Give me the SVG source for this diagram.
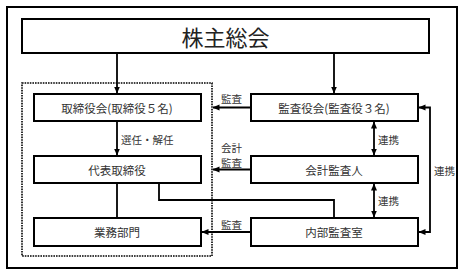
<svg xmlns="http://www.w3.org/2000/svg" width="466" height="275" viewBox="0 0 466 275">
<style>
  .box{fill:#fff;stroke:#000;stroke-width:2}
  .t{font-family:"Noto Sans CJK JP","Noto Sans CJK SC",sans-serif;font-size:11.5px;fill:#333;text-anchor:middle;dominant-baseline:central}
  .lbl{font-family:"Noto Sans CJK JP","Noto Sans CJK SC",sans-serif;font-size:10.5px;fill:#333;dominant-baseline:central}
  .c{fill:none;stroke:#000;stroke-width:1.8}
  .a{marker-end:url(#ah)}
  .d{marker-start:url(#ah);marker-end:url(#ah)}
</style>
<defs>
  <marker id="ah" markerUnits="userSpaceOnUse" markerWidth="7" markerHeight="7" refX="6.5" refY="3.5" orient="auto-start-reverse">
    <path d="M0,0.5 L7,3.5 L0,6.5 z" fill="#000"/>
  </marker>
</defs>
<rect width="466" height="275" fill="#fff"/>
<rect id="outer" x="7" y="7" width="450" height="261" fill="none" stroke="#000" stroke-width="2"/>
<rect id="group-board" x="22" y="83" width="190" height="173" fill="none" stroke="#000" stroke-width="1.6" stroke-dasharray="1.6 1"/>

<g id="connectors">
  <path class="c a" d="M117,53 V93"/>
  <path class="c a" d="M334,53 V93"/>
  <path class="c a" d="M117,121 V155"/>
  <path class="c" d="M117,183 V218"/>
  <path class="c" d="M159,183 V200 H334 V218"/>
  <path class="c a" d="M251,107.5 H213"/>
  <path class="c a" d="M251,169.5 H213"/>
  <path class="c a" d="M251,232 H202"/>
  <path class="c d" d="M374,122 V155"/>
  <path class="c d" d="M374,184 V217"/>
  <path class="c d" d="M419,232 H430 V107.5 H419"/>
  <text class="lbl" x="121" y="139">選任・解任</text>
  <text class="lbl" x="221" y="98.5">監査</text>
  <text class="lbl" x="221" y="147.5">会計</text>
  <text class="lbl" x="221" y="162">監査</text>
  <text class="lbl" x="221" y="224.5">監査</text>
  <text class="lbl" x="378" y="139">連携</text>
  <text class="lbl" x="378" y="200">連携</text>
  <text class="lbl" x="434" y="170">連携</text>
</g>

<g id="shareholders">
  <rect class="box" x="22" y="19" width="407" height="34"/>
  <text x="225.5" y="36" font-family="Noto Sans CJK JP, Noto Sans CJK SC, sans-serif" font-size="22" fill="#222" text-anchor="middle" dominant-baseline="central">株主総会</text>
</g>
<g id="board">
  <rect class="box" x="34" y="94" width="167" height="27"/>
  <text class="t" x="117" y="107.5">取締役会(取締役５名)</text>
</g>
<g id="representative">
  <rect class="box" x="34" y="156" width="167" height="27"/>
  <text class="t" x="117" y="169.5">代表取締役</text>
</g>
<g id="operations">
  <rect class="box" x="34" y="218" width="167" height="28"/>
  <text class="t" x="117" y="232">業務部門</text>
</g>
<g id="auditors">
  <rect class="box" x="251" y="94" width="167" height="27"/>
  <text class="t" x="334" y="107.5">監査役会(監査役３名)</text>
</g>
<g id="accounting-auditor">
  <rect class="box" x="251" y="156" width="167" height="27"/>
  <text class="t" x="334" y="169.5">会計監査人</text>
</g>
<g id="internal-audit">
  <rect class="box" x="251" y="218" width="167" height="28"/>
  <text class="t" x="334" y="232">内部監査室</text>
</g>
</svg>
